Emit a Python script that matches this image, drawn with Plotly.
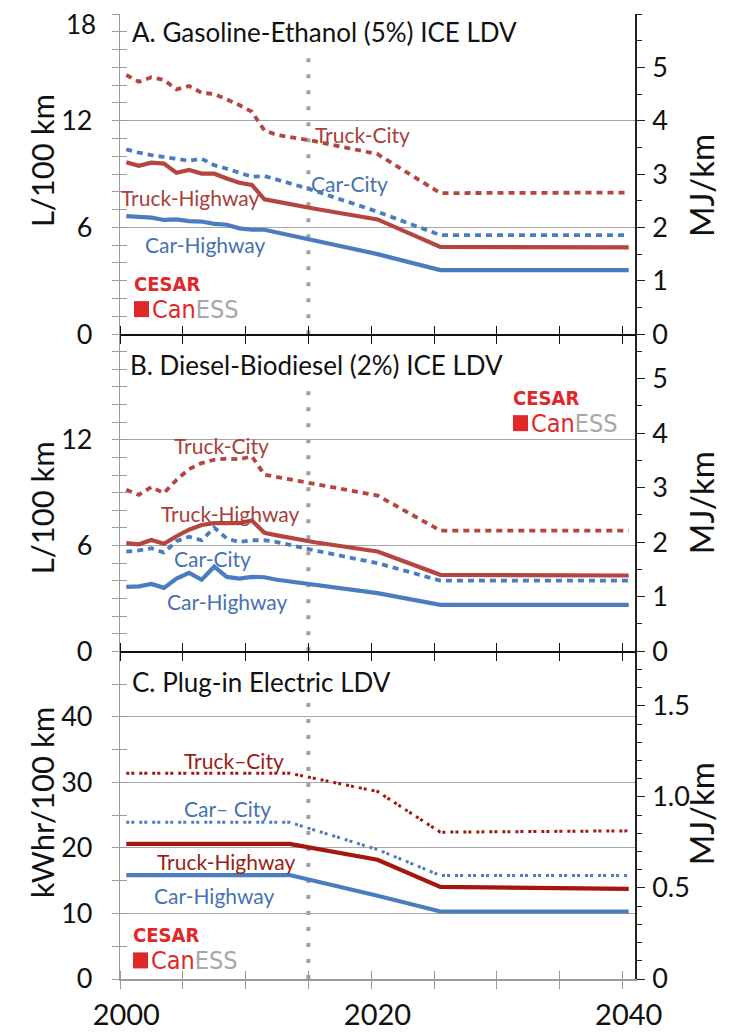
import plotly.graph_objects as go

# ---------------- data ----------------
years = list(range(2000, 2016)) + [2020, 2025, 2040]

# Panel A: Gasoline-Ethanol (5%) ICE LDV, L/100 km
a_truck_city = [14.57, 14.19, 14.44, 14.29, 13.76, 13.95, 13.57, 13.5, 13.2, 12.88, 12.5,
                11.45, 11.2, 11.1, 11.0, 10.85, 10.12, 7.93, 7.96]
a_car_city = [10.39, 10.2, 10.07, 9.97, 9.82, 9.75, 9.86, 9.5, 9.3, 9.07, 8.85,
              8.89, 8.7, 8.47, 8.28, 8.06, 6.88, 5.57, 5.57]
a_truck_hwy = [9.66, 9.47, 9.64, 9.59, 9.07, 9.23, 9.03, 9.02, 8.75, 8.51, 8.39,
               7.58, 7.45, 7.3, 7.18, 7.05, 6.45, 4.9, 4.88]
a_car_hwy = [6.63, 6.6, 6.55, 6.42, 6.45, 6.35, 6.33, 6.2, 6.15, 5.95, 5.87,
             5.87, 5.72, 5.55, 5.4, 5.25, 4.5, 3.6, 3.6]

# Panel B: Diesel-Biodiesel (2%) ICE LDV, L/100 km
b_truck_city = [9.16, 8.88, 9.32, 8.98, 9.73, 10.34, 10.68, 10.87, 10.94, 10.9, 11.06,
                10.02, 9.89, 9.77, 9.64, 9.5, 8.84, 6.85, 6.85]
b_truck_hwy = [6.14, 6.07, 6.32, 6.1, 6.53, 6.9, 7.17, 7.27, 7.28, 7.27, 7.42,
               6.72, 6.58, 6.44, 6.31, 6.19, 5.66, 4.34, 4.3]
b_car_city = [5.66, 5.72, 5.85, 5.6, 6.25, 6.5, 6.3, 7.02, 6.4, 6.2, 6.3,
              6.3, 6.2, 6.04, 5.85, 5.72, 5.0, 4.01, 4.01]
b_car_hwy = [3.65, 3.68, 3.82, 3.6, 4.12, 4.45, 4.06, 4.8, 4.22, 4.12, 4.22,
             4.2, 4.06, 3.97, 3.88, 3.8, 3.3, 2.63, 2.63]

# Panel C: Plug-in Electric LDV, kWhr/100 km
c_years = [2000, 2013, 2020, 2025, 2040]
c_truck_city = [31.4, 31.4, 28.6, 22.4, 22.6]
c_car_city = [23.9, 23.9, 19.75, 15.8, 15.8]
c_truck_hwy = [20.6, 20.6, 18.2, 14.05, 13.75]
c_car_hwy = [15.86, 15.86, 12.7, 10.3, 10.3]

# MJ/km conversion factors for right axes
mj_a = 1 / 3.0
mj_b = 0.323
mj_c = 0.036

x_label_vals = [2000, 2020, 2040]
x_label_text = ["2000", "2020", "2040"]
ref_year = 2014.5

# ---------------- style ----------------
FONT = "Lato, sans-serif"
LOGO_FONT = "Liberation Sans Narrow, DejaVu Sans Condensed, sans-serif"
RED = "#B5463F"
BLUE = "#4A7DBF"
DRED = "#A3170F"
RED_TXT = "#A8403A"
BLUE_TXT = "#4671B3"
DRED_TXT = "#9A1C16"
GRID = "#A6A6A6"
AXG = "#9A9A9A"

# the page body adds an 8px offset; all positions below are page pixels
OFF = 8
W, H = 744 - OFF, 1035 - OFF
ML, MR, MT, MB = 120 - OFF, 109, 14 - OFF, 56.4
PW = W - ML - MR
PH = H - MT - MB


def PX(x):
    return (x - OFF - ML) / PW


def PY(y):
    return (H - MB - (y - OFF)) / PH


fig = go.Figure()

panels = [
    ("x", "y", [a_truck_city, a_car_city, a_truck_hwy, a_car_hwy], years, RED, BLUE, RED),
    ("x2", "y3", [b_truck_city, b_car_city, b_truck_hwy, b_car_hwy], years, RED, BLUE, RED),
    ("x3", "y5", [c_truck_city, c_car_city, c_truck_hwy, c_car_hwy], c_years, DRED, BLUE, DRED),
]

for i, (xa, ya, series, xs, rc, bc, hc) in enumerate(panels):
    tc, cc, th, ch = series
    city_dash = "6px,5px" if i < 2 else "3px,2px,3px,5px"
    city_w = 3.8 if i < 2 else 3
    fig.add_trace(go.Scatter(x=xs, y=tc, mode="lines", xaxis=xa, yaxis=ya,
                             line=dict(color=rc, width=city_w, dash=city_dash),
                             showlegend=False, hoverinfo="skip"))
    fig.add_trace(go.Scatter(x=xs, y=cc, mode="lines", xaxis=xa, yaxis=ya,
                             line=dict(color=bc, width=city_w, dash=city_dash),
                             showlegend=False, hoverinfo="skip"))
    fig.add_trace(go.Scatter(x=xs, y=th, mode="lines", xaxis=xa, yaxis=ya,
                             line=dict(color=hc, width=4.2),
                             showlegend=False, hoverinfo="skip"))
    fig.add_trace(go.Scatter(x=xs, y=ch, mode="lines", xaxis=xa, yaxis=ya,
                             line=dict(color=bc, width=4.2),
                             showlegend=False, hoverinfo="skip"))

dom_a = [PY(334), 1.0]
dom_b = [PY(651), PY(334)]
dom_c = [0.0, PY(651)]


def xaxis(anchor, show_labels, color, overlay=None):
    d = dict(domain=[0, 1], anchor=anchor, range=[1999.5, 2040.5], automargin=False,
             tickvals=x_label_vals, ticktext=x_label_text, ticks="",
             showticklabels=show_labels, ticklabelstandoff=9,
             tickfont=dict(family=FONT, size=29, color="#111"),
             minor=dict(tickmode="linear", tick0=1999.5, dtick=5,
                        ticks="inside" if overlay else "outside",
                        ticklen=8, tickcolor=color, tickwidth=1.3, showgrid=False),
             showline=overlay is None, linecolor=color, linewidth=1.5,
             showgrid=False, zeroline=False)
    if overlay:
        d["overlaying"] = overlay
        d["showticklabels"] = False
        d.pop("domain")
    return d


def yleft(dom, rng, vals, text, mdt, anchor, overlay=None):
    d = dict(domain=dom, anchor=anchor, range=rng, tickvals=vals, ticktext=text,
             automargin=False,
             ticks="inside" if overlay else "outside", ticklen=7, tickcolor=AXG, tickwidth=1.2,
             minor=dict(tickmode="linear", tick0=0, dtick=mdt,
                        ticks="inside" if overlay else "outside",
                        ticklen=7, tickcolor=AXG, tickwidth=1.2, showgrid=False),
             showline=overlay is None, linecolor=AXG, linewidth=1.2,
             showgrid=overlay is None, gridcolor=GRID, gridwidth=1.3, zeroline=False,
             ticklabelstandoff=14,
             tickfont=dict(family=FONT, size=27, color="#111"))
    if overlay:
        d["overlaying"] = overlay
        d["showticklabels"] = False
        d["side"] = "left"
        d.pop("domain")
    return d


def yright(overlay, anchor, rng, vals, text, mdt):
    return dict(overlaying=overlay, anchor=anchor, side="right", range=rng,
                tickvals=vals, ticktext=text, automargin=False,
                ticks="outside", ticklen=8, tickcolor="#222", tickwidth=1.3,
                minor=dict(tickmode="linear", tick0=0, dtick=mdt, ticks="outside",
                           ticklen=5, tickcolor="#222", tickwidth=1.2, showgrid=False),
                showline=True, linecolor="#222", linewidth=1.5,
                showgrid=False, zeroline=False, ticklabelstandoff=2,
                tickfont=dict(family=FONT, size=27, color="#111"))


a_vals = [0, 6, 12, 18]
a_text = ["0", "6", "12", ""]
b_vals = [0, 6, 12]
b_text = ["0", "6", "12"]
c_vals = [0, 10, 20, 30, 40]
c_text = ["0", "10", "20", "30", "40"]

fig.update_layout(
    xaxis=xaxis("y", False, "#111"),
    xaxis2=xaxis("y3", False, "#111"),
    xaxis3=xaxis("y5", True, AXG),
    xaxis4=xaxis("y", False, "#111", overlay="x"),
    xaxis5=xaxis("y3", False, "#111", overlay="x2"),
    xaxis6=xaxis("y5", False, AXG, overlay="x3"),
    yaxis=yleft(dom_a, [0, 18], a_vals, a_text, 1, "x"),
    yaxis2=yright("y", "x", [0, 18 * mj_a], [0, 1, 2, 3, 4, 5],
                  ["0", "1", "2", "3", "4", "5"], 0.5),
    yaxis3=yleft(dom_b, [0, 18], b_vals, b_text, 1, "x2"),
    yaxis4=yright("y3", "x2", [0, 18 * mj_b], [0, 1, 2, 3, 4, 5],
                  ["0", "1", "2", "3", "4", "5"], 0.5),
    yaxis5=yleft(dom_c, [0, 50], c_vals, c_text, 5, "x3"),
    yaxis6=yright("y5", "x3", [0, 50 * mj_c], [0, 0.5, 1.0, 1.5],
                  ["0", "0.5", "1.0", "1.5"], 0.1),
    yaxis7=yleft(dom_a, [0, 18], a_vals, a_text, 1, "x", overlay="y"),
    yaxis8=yleft(dom_b, [0, 18], b_vals, b_text, 1, "x2", overlay="y3"),
    yaxis9=yleft(dom_c, [0, 50], c_vals, c_text, 5, "x3", overlay="y5"),
)

# empty traces so every extra axis is drawn
for xa, ya in [("x", "y2"), ("x2", "y4"), ("x3", "y6"),
               ("x", "y7"), ("x2", "y8"), ("x3", "y9"),
               ("x4", "y"), ("x5", "y3"), ("x6", "y5")]:
    fig.add_trace(go.Scatter(x=[None], y=[None], xaxis=xa, yaxis=ya,
                             showlegend=False, hoverinfo="skip"))

# vertical reference (dotted grey) lines
shapes = []
for xa, ya, top in [("x", "y", 16.1), ("x2", "y3", 15.4), ("x3", "y5", 42.5)]:
    shapes.append(dict(type="line", xref=xa, yref=ya, x0=ref_year, x1=ref_year,
                       y0=0, y1=top, line=dict(color="#A0A0A0", width=4, dash="4px,12px"),
                       layer="below"))

annotations = []


def ann(text, x, y, color, size, xanchor="center", angle=0, family=FONT, bold=False):
    annotations.append(dict(text=("<b>%s</b>" % text) if bold else text,
                            x=PX(x), y=PY(y), xref="paper", yref="paper",
                            xanchor=xanchor, yanchor="middle", showarrow=False,
                            textangle=angle, borderpad=0,
                            font=dict(family=family, size=size, color=color)))


# top tick label of panel A (placed by hand so it is not clipped)
ann("18", 97, 24, "#111", 26, "right")

# panel titles
ann("A. Gasoline-Ethanol (5%) ICE LDV", 131, 32, "#111", 26, "left")
ann("B. Diesel-Biodiesel (2%) ICE LDV", 129, 365, "#111", 26, "left")
ann("C. Plug-in Electric LDV", 131, 682, "#111", 26, "left")

# axis titles
ann("L/100 km", 42, 161, "#111", 31, angle=-90)
ann("L/100 km", 42, 508, "#111", 31, angle=-90)
ann("kWhr/100 km", 42, 802, "#111", 31, angle=-90)
ann("MJ/km", 701, 186, "#111", 33, angle=-90)
ann("MJ/km", 701, 503, "#111", 33, angle=-90)
ann("MJ/km", 701, 814, "#111", 33, angle=-90)

# series labels
ann("Truck-City", 362, 134, RED_TXT, 21)
ann("Car-City", 349, 183, BLUE_TXT, 21)
ann("Truck-Highway", 190, 197, RED_TXT, 21)
ann("Car-Highway", 205, 244, BLUE_TXT, 21)

ann("Truck-City", 221, 445, RED_TXT, 21)
ann("Truck-Highway", 230, 513, RED_TXT, 21)
ann("Car-City", 212, 558, BLUE_TXT, 21)
ann("Car-Highway", 227, 601, BLUE_TXT, 21)

ann("Truck\u2013City", 234, 760, DRED_TXT, 21)
ann("Car\u2013 City", 227, 808, BLUE_TXT, 21)
ann("Truck-Highway", 226, 861, DRED_TXT, 21)
ann("Car-Highway", 214, 895, BLUE_TXT, 21)

# logos
LOGO_RED = "#E0282A"
for lx, ly in [(133, 284), (512, 398), (132, 935)]:
    ann("CESAR", lx, ly, LOGO_RED, 20, "left", family=LOGO_FONT, bold=True)
    annotations.append(dict(
        text="<span style='color:%s'>Can</span><span style='color:#A8A8A8'>ESS</span>" % LOGO_RED,
        x=PX(lx + 17), y=PY(ly + 25), xref="paper", yref="paper",
        xanchor="left", yanchor="middle", showarrow=False,
        font=dict(family=LOGO_FONT, size=25)))
    shapes.append(dict(type="rect", xref="paper", yref="paper",
                       x0=PX(lx + 1), x1=PX(lx + 16), y0=PY(ly + 33), y1=PY(ly + 17),
                       fillcolor=LOGO_RED, line=dict(width=0)))

fig.update_layout(
    width=W, height=H,
    margin=dict(l=ML, r=MR, t=MT, b=MB),
    paper_bgcolor="white", plot_bgcolor="white",
    font=dict(family=FONT, color="#111"),
    shapes=shapes, annotations=annotations, showlegend=False,
)

fig.write_html("out.html")
